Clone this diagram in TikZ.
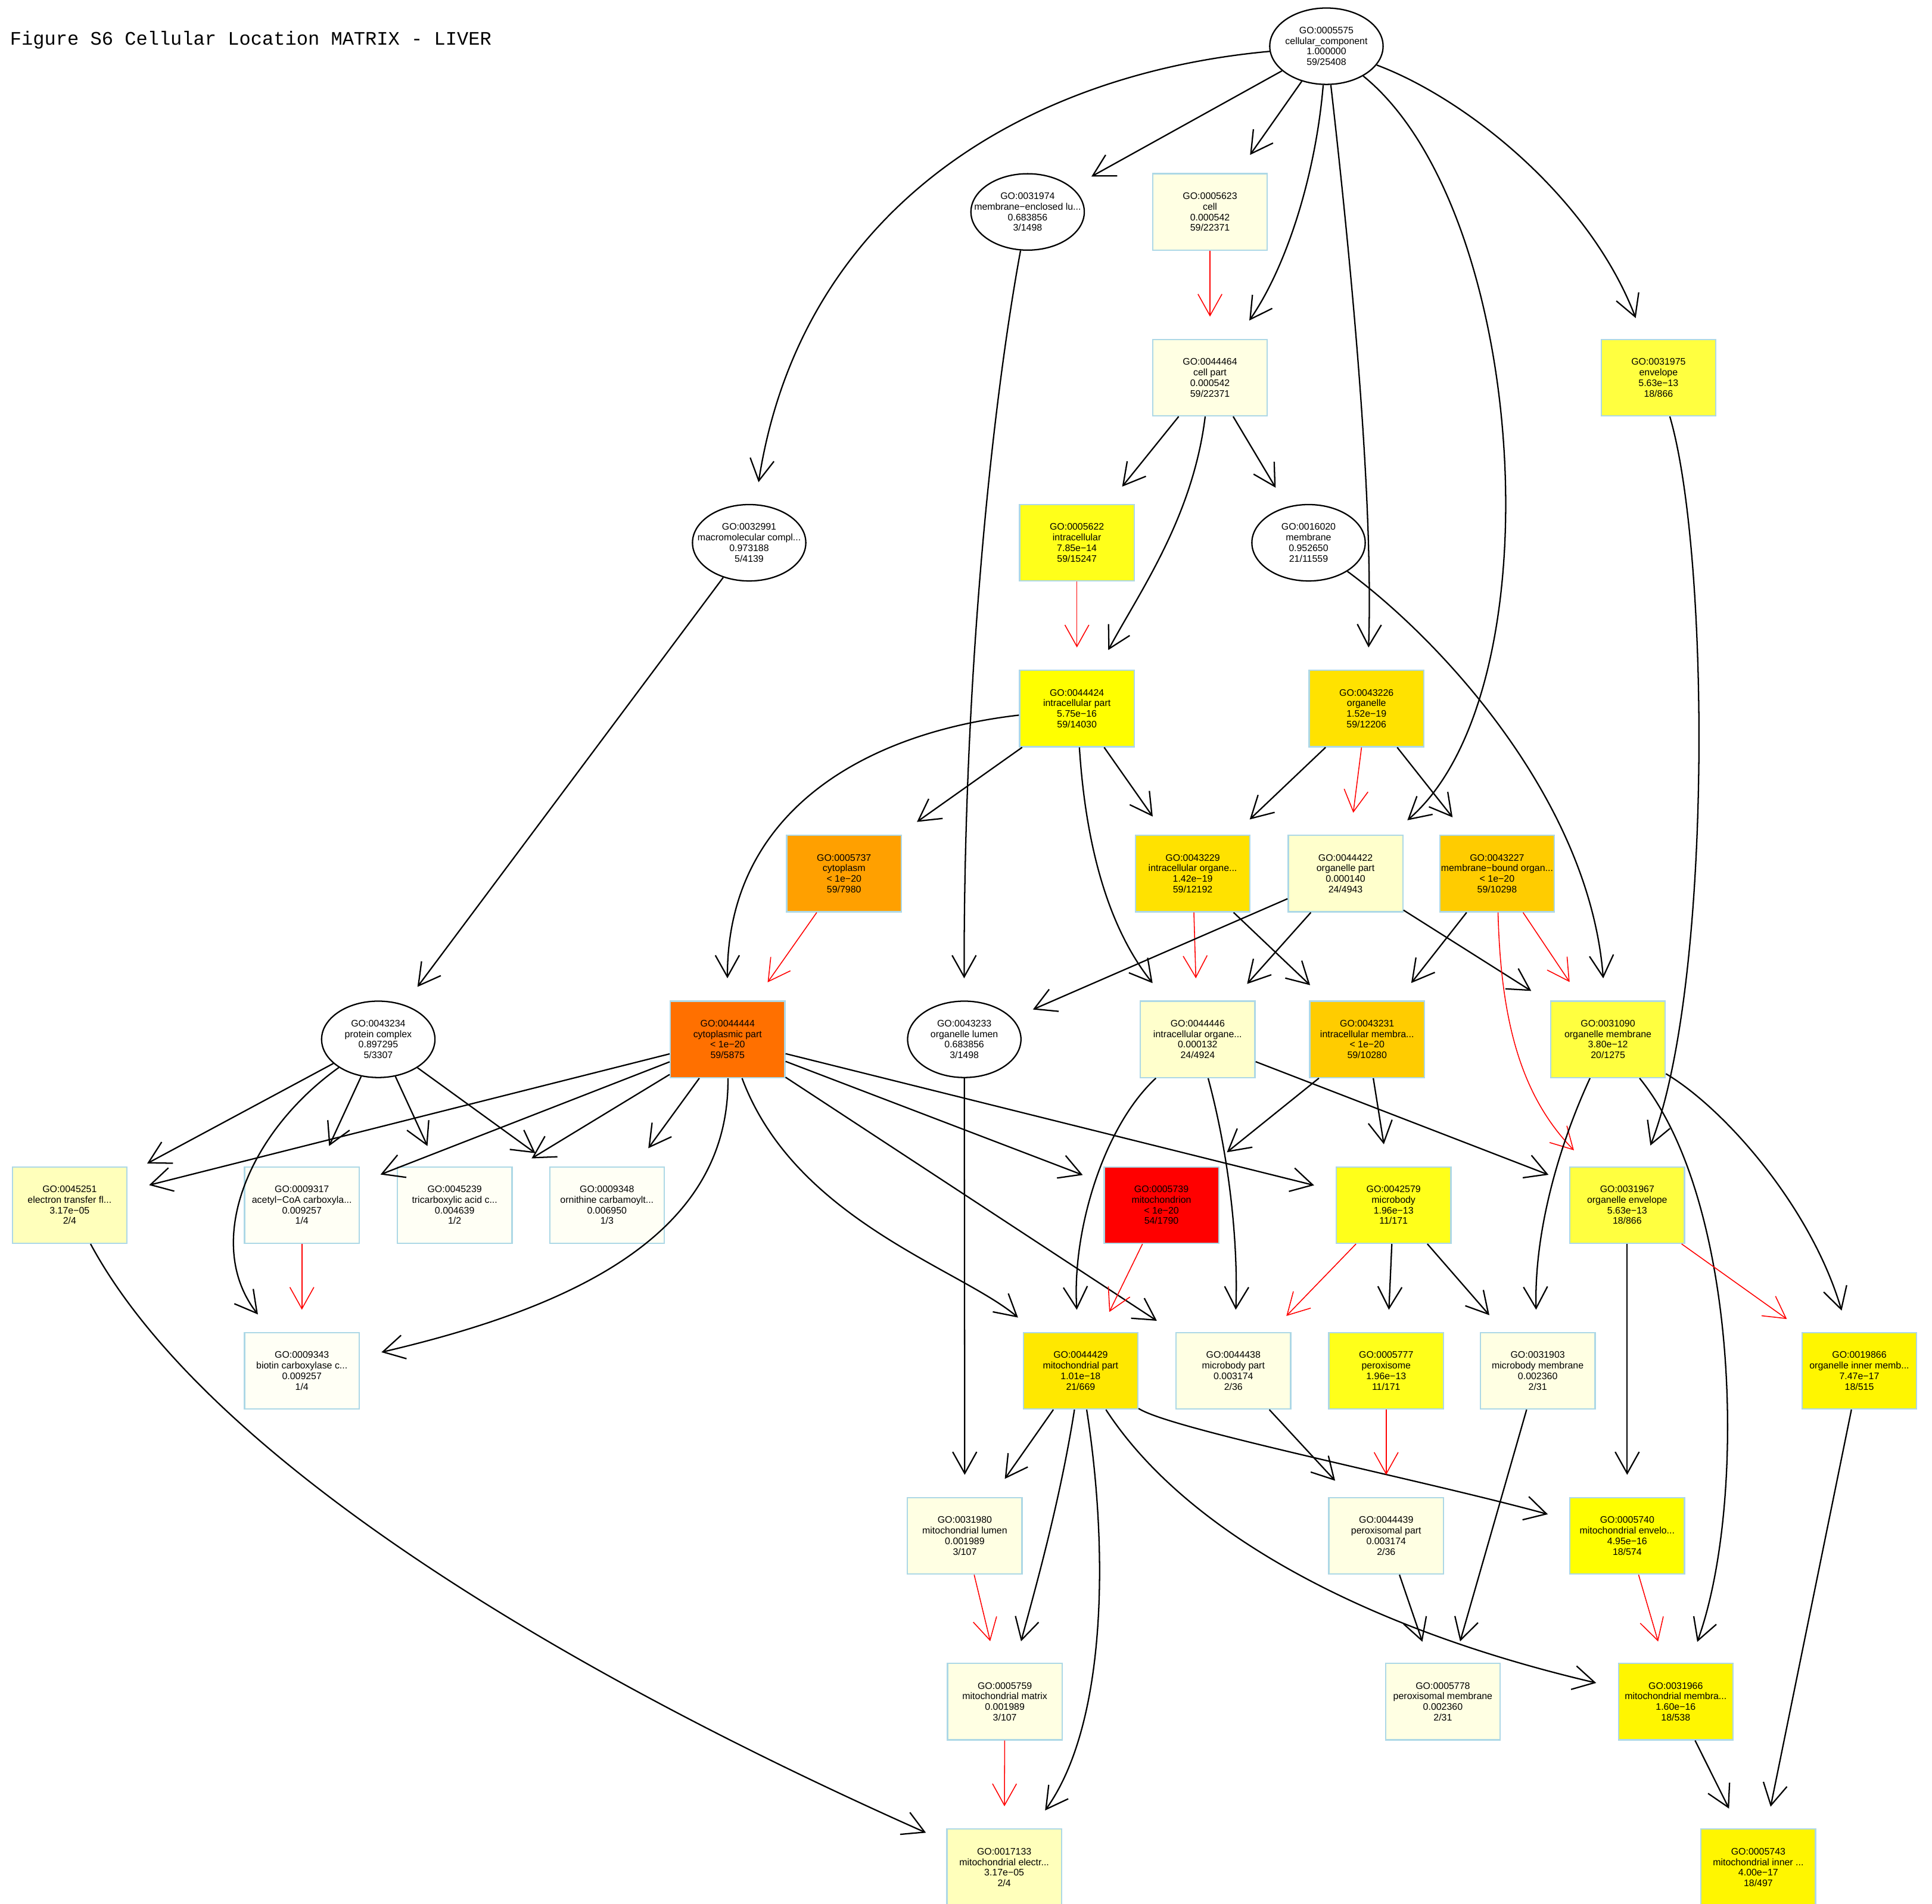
\documentclass[tikz,border=0pt]{standalone}
\usepackage{fontspec}
\setmainfont{Liberation Sans}
\newfontfamily\titlefont{Liberation Mono}
\usetikzlibrary{shapes.geometric,arrows.meta}
\definecolor{boxblue}{HTML}{ADD8E6}
\definecolor{cA}{HTML}{FFFFF5}
\definecolor{cB}{HTML}{FFFFE3}
\definecolor{cC}{HTML}{FFFFCC}
\definecolor{cD}{HTML}{FFFFBB}
\definecolor{cE}{HTML}{FFFF40}
\definecolor{cF}{HTML}{FFFF1A}
\definecolor{cG}{HTML}{FFFF00}
\definecolor{cH}{HTML}{FFF600}
\definecolor{cI}{HTML}{FFE800}
\definecolor{cJ}{HTML}{FFE200}
\definecolor{cK}{HTML}{FFCC00}
\definecolor{cL}{HTML}{FFA000}
\definecolor{cM}{HTML}{FF7000}
\definecolor{cN}{HTML}{FF0000}
\newcommand\gofont{\fontsize{7.7}{8.6}\selectfont}
\newcommand\golab[4]{#1\\#2\\#3\\#4}
\begin{document}
\begin{tikzpicture}[x=1pt,y=-1pt,
  gobox/.style={rectangle, draw=boxblue, line width=1.1pt, minimum width=93pt, minimum height=62pt, inner sep=0pt},
  goell/.style={ellipse, draw=black, fill=white, line width=1.1pt, minimum width=92pt, minimum height=62pt, inner sep=0pt},
  gotext/.style={align=center, inner sep=0pt, font=\gofont, text=black},
  edge/.style={draw=black, line width=1.1pt, -{Straight Barb[length=17.5pt,width=19.5pt]}, shorten >=18pt},
  redge/.style={edge, draw=red, line width=0.75pt}]
\fill[white] (0,0) rectangle (1568,1544.8);
\useasboundingbox (0,0) rectangle (1568,1544.8);

\node[anchor=base west, inner sep=0pt, font=\titlefont\fontsize{15.5}{18}\selectfont] (title) at (8,36.3) {Figure S6 Cellular Location MATRIX - LIVER};

% rank 0-2
\node[goell, label={[gotext]center:{\golab{GO:0005575}{cellular\_component}{1.000000}{59/25408}}}] (n5575) at (1076.5,37.5) {};
\node[goell, label={[gotext]center:{\golab{GO:0031974}{membrane−enclosed lu...}{0.683856}{3/1498}}}] (n31974) at (834,172) {};
\node[gobox, fill=cB, label={[gotext]center:{\golab{GO:0005623}{cell}{0.000542}{59/22371}}}] (n5623) at (982,172) {};
\node[gobox, fill=cB, label={[gotext]center:{\golab{GO:0044464}{cell part}{0.000542}{59/22371}}}] (n44464) at (982,306.5) {};
\node[gobox, fill=cE, label={[gotext]center:{\golab{GO:0031975}{envelope}{5.63e−13}{18/866}}}] (n31975) at (1346,306.5) {};
% rank 3
\node[goell, label={[gotext]center:{\golab{GO:0032991}{macromolecular compl...}{0.973188}{5/4139}}}] (n32991) at (608,440.5) {};
\node[gobox, fill=cF, label={[gotext]center:{\golab{GO:0005622}{intracellular}{7.85e−14}{59/15247}}}] (n5622) at (874,440.5) {};
\node[goell, label={[gotext]center:{\golab{GO:0016020}{membrane}{0.952650}{21/11559}}}] (n16020) at (1062,440.5) {};
% rank 4
\node[gobox, fill=cG, label={[gotext]center:{\golab{GO:0044424}{intracellular part}{5.75e−16}{59/14030}}}] (n44424) at (874,575) {};
\node[gobox, fill=cJ, label={[gotext]center:{\golab{GO:0043226}{organelle}{1.52e−19}{59/12206}}}] (n43226) at (1109,575) {};
% rank 5
\node[gobox, fill=cL, label={[gotext]center:{\golab{GO:0005737}{cytoplasm}{< 1e−20}{59/7980}}}] (n5737) at (685,709) {};
\node[gobox, fill=cJ, label={[gotext]center:{\golab{GO:0043229}{intracellular organe...}{1.42e−19}{59/12192}}}] (n43229) at (968,709) {};
\node[gobox, fill=cC, label={[gotext]center:{\golab{GO:0044422}{organelle part}{0.000140}{24/4943}}}] (n44422) at (1092,709) {};
\node[gobox, fill=cK, label={[gotext]center:{\golab{GO:0043227}{membrane−bound organ...}{< 1e−20}{59/10298}}}] (n43227) at (1215,709) {};
% rank 6
\node[goell, label={[gotext]center:{\golab{GO:0043234}{protein complex}{0.897295}{5/3307}}}] (n43234) at (307,843.5) {};
\node[gobox, fill=cM, label={[gotext]center:{\golab{GO:0044444}{cytoplasmic part}{< 1e−20}{59/5875}}}] (n44444) at (590.5,843.5) {};
\node[goell, label={[gotext]center:{\golab{GO:0043233}{organelle lumen}{0.683856}{3/1498}}}] (n43233) at (782.6,843.5) {};
\node[gobox, fill=cC, label={[gotext]center:{\golab{GO:0044446}{intracellular organe...}{0.000132}{24/4924}}}] (n44446) at (972,843.5) {};
\node[gobox, fill=cK, label={[gotext]center:{\golab{GO:0043231}{intracellular membra...}{< 1e−20}{59/10280}}}] (n43231) at (1109.5,843.5) {};
\node[gobox, fill=cE, label={[gotext]center:{\golab{GO:0031090}{organelle membrane}{3.80e−12}{20/1275}}}] (n31090) at (1305,843.5) {};
% rank 7
\node[gobox, fill=cD, label={[gotext]center:{\golab{GO:0045251}{electron transfer fl...}{3.17e−05}{2/4}}}] (n45251) at (56.5,978) {};
\node[gobox, fill=cA, label={[gotext]center:{\golab{GO:0009317}{acetyl−CoA carboxyla...}{0.009257}{1/4}}}] (n9317) at (245,978) {};
\node[gobox, fill=cA, label={[gotext]center:{\golab{GO:0045239}{tricarboxylic acid c...}{0.004639}{1/2}}}] (n45239) at (369,978) {};
\node[gobox, fill=cA, label={[gotext]center:{\golab{GO:0009348}{ornithine carbamoylt...}{0.006950}{1/3}}}] (n9348) at (492.6,978) {};
\node[gobox, fill=cN, label={[gotext]center:{\golab{GO:0005739}{mitochondrion}{< 1e−20}{54/1790}}}] (n5739) at (942.6,978) {};
\node[gobox, fill=cF, label={[gotext]center:{\golab{GO:0042579}{microbody}{1.96e−13}{11/171}}}] (n42579) at (1131,978) {};
\node[gobox, fill=cE, label={[gotext]center:{\golab{GO:0031967}{organelle envelope}{5.63e−13}{18/866}}}] (n31967) at (1320.6,978) {};
% rank 8
\node[gobox, fill=cA, label={[gotext]center:{\golab{GO:0009343}{biotin carboxylase c...}{0.009257}{1/4}}}] (n9343) at (245,1112.5) {};
\node[gobox, fill=cI, label={[gotext]center:{\golab{GO:0044429}{mitochondrial part}{1.01e−18}{21/669}}}] (n44429) at (877,1112.5) {};
\node[gobox, fill=cB, label={[gotext]center:{\golab{GO:0044438}{microbody part}{0.003174}{2/36}}}] (n44438) at (1001,1112.5) {};
\node[gobox, fill=cF, label={[gotext]center:{\golab{GO:0005777}{peroxisome}{1.96e−13}{11/171}}}] (n5777) at (1125,1112.5) {};
\node[gobox, fill=cB, label={[gotext]center:{\golab{GO:0031903}{microbody membrane}{0.002360}{2/31}}}] (n31903) at (1248,1112.5) {};
\node[gobox, fill=cH, label={[gotext]center:{\golab{GO:0019866}{organelle inner memb...}{7.47e−17}{18/515}}}] (n19866) at (1509,1112.5) {};
% rank 9
\node[gobox, fill=cB, label={[gotext]center:{\golab{GO:0031980}{mitochondrial lumen}{0.001989}{3/107}}}] (n31980) at (783,1246.5) {};
\node[gobox, fill=cB, label={[gotext]center:{\golab{GO:0044439}{peroxisomal part}{0.003174}{2/36}}}] (n44439) at (1125,1246.5) {};
\node[gobox, fill=cG, label={[gotext]center:{\golab{GO:0005740}{mitochondrial envelo...}{4.95e−16}{18/574}}}] (n5740) at (1320.6,1246.5) {};
% rank 10
\node[gobox, fill=cB, label={[gotext]center:{\golab{GO:0005759}{mitochondrial matrix}{0.001989}{3/107}}}] (n5759) at (815.5,1381) {};
\node[gobox, fill=cB, label={[gotext]center:{\golab{GO:0005778}{peroxisomal membrane}{0.002360}{2/31}}}] (n5778) at (1171,1381) {};
\node[gobox, fill=cH, label={[gotext]center:{\golab{GO:0031966}{mitochondrial membra...}{1.60e−16}{18/538}}}] (n31966) at (1360,1381) {};
% rank 11
\node[gobox, fill=cD, label={[gotext]center:{\golab{GO:0017133}{mitochondrial electr...}{3.17e−05}{2/4}}}] (n17133) at (815,1515.5) {};
\node[gobox, fill=cH, label={[gotext]center:{\golab{GO:0005743}{mitochondrial inner ...}{4.00e−17}{18/497}}}] (n5743) at (1427,1515.5) {};

% edges
\draw[edge] (n5575) .. controls (830,60) and (650,170) .. (n32991);
\draw[edge] (n5575) -- (n31974);
\draw[edge] (n5575) -- (n5623);
\draw[edge] (n5575) .. controls (1068,140) and (1045,215) .. (n44464);
\draw[edge] (n5575) .. controls (1095,200) and (1115,400) .. (n43226);
\draw[edge] (n5575) .. controls (1240,170) and (1265,560) .. (n44422);
\draw[edge] (n5575) .. controls (1190,80) and (1290,160) .. (n31975);
\draw[edge] (n31974) .. controls (805,330) and (782,550) .. (n43233);
\draw[redge] (n5623) -- (n44464);
\draw[edge] (n31975) .. controls (1388,450) and (1390,800) .. (n31967);
\draw[edge] (n44464) -- (n5622);
\draw[edge] (n44464) .. controls (968,420) and (925,480) .. (n44424);
\draw[edge] (n44464) -- (n16020);
\draw[edge] (n32991) -- (n43234);
\draw[redge] (n5622) -- (n44424);
\draw[edge] (n16020) .. controls (1170,520) and (1290,650) .. (n31090);
\draw[edge] (n44424) -- (n5737);
\draw[edge] (n44424) .. controls (700,595) and (590,660) .. (n44444);
\draw[edge] (n44424) -- (n43229);
\draw[edge] (n44424) .. controls (882,700) and (905,760) .. (n44446);
\draw[edge] (n43226) -- (n43229);
\draw[redge] (n43226) -- (n44422);
\draw[edge] (n43226) -- (n43227);
\draw[redge] (n5737) -- (n44444);
\draw[redge] (n43229) -- (n44446);
\draw[edge] (n43229) -- (n43231);
\draw[edge] (n44422) -- (n43233);
\draw[edge] (n44422) -- (n44446);
\draw[edge] (n44422) -- (n31090);
\draw[edge] (n43227) -- (n43231);
\draw[redge] (n43227) -- (n31090);
\draw[redge] (n43227) .. controls (1218,830) and (1235,890) .. (n31967);
\draw[edge] (n43234) -- (n45251);
\draw[edge] (n43234) .. controls (200,920) and (165,1010) .. (n9343);
\draw[edge] (n43234) -- (n9317);
\draw[edge] (n43234) -- (n45239);
\draw[edge] (n43234) -- (n9348);
\draw[edge] (n44444) -- (n45251);
\draw[edge] (n44444) -- (n9317);
\draw[edge] (n44444) -- (n45239);
\draw[edge] (n44444) -- (n9348);
\draw[edge] (n44444) .. controls (592,1000) and (470,1060) .. (n9343);
\draw[edge] (n44444) -- (n5739);
\draw[edge] (n44444) -- (n42579);
\draw[edge] (n44444) .. controls (645,990) and (780,1030) .. (n44429);
\draw[edge] (n44444) -- (n44438);
\draw[edge] (n43233) -- (n31980);
\draw[edge] (n44446) .. controls (895,915) and (870,1000) .. (n44429);
\draw[edge] (n44446) .. controls (998,940) and (1005,1010) .. (n44438);
\draw[edge] (n44446) -- (n31967);
\draw[edge] (n43231) -- (n5739);
\draw[edge] (n43231) -- (n42579);
\draw[edge] (n31090) .. controls (1265,930) and (1245,1000) .. (n31903);
\draw[edge] (n31090) .. controls (1412,975) and (1418,1220) .. (n31966);
\draw[edge] (n31090) .. controls (1400,900) and (1470,980) .. (n19866);
\draw[redge] (n5739) -- (n44429);
\draw[redge] (n42579) -- (n44438);
\draw[edge] (n42579) -- (n5777);
\draw[edge] (n42579) -- (n31903);
\draw[edge] (n31967) -- (n5740);
\draw[redge] (n31967) -- (n19866);
\draw[redge] (n9317) -- (n9343);
\draw[edge] (n45251) .. controls (160,1170) and (420,1340) .. (n17133);
\draw[edge] (n44429) -- (n31980);
\draw[edge] (n44429) .. controls (860,1220) and (840,1290) .. (n5759);
\draw[edge] (n44429) .. controls (900,1260) and (898,1400) .. (n17133);
\draw[edge] (n44429) .. controls (960,1240) and (1100,1320) .. (n31966);
\draw[edge] (n44429) .. controls (950,1160) and (1150,1200) .. (n5740);
\draw[edge] (n44438) -- (n44439);
\draw[redge] (n5777) -- (n44439);
\draw[edge] (n31903) -- (n5778);
\draw[edge] (n44439) -- (n5778);
\draw[redge] (n5740) -- (n31966);
\draw[edge] (n31966) -- (n5743);
\draw[edge] (n19866) -- (n5743);
\draw[redge] (n31980) -- (n5759);
\draw[redge] (n5759) -- (n17133);
\end{tikzpicture}
\end{document}
